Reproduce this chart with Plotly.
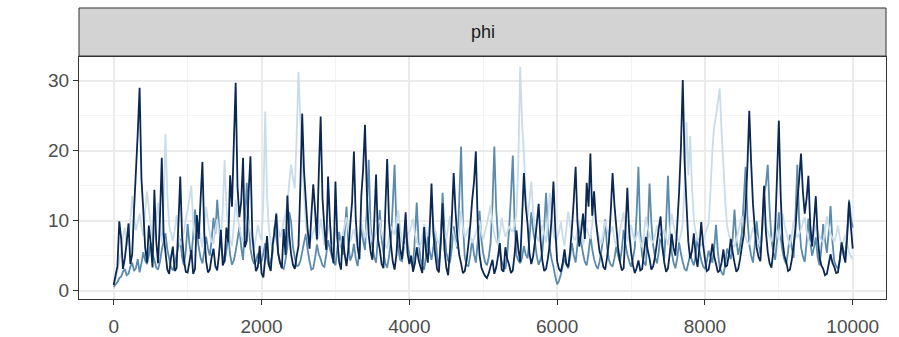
import plotly.graph_objects as go

step = 25
iterations = list(range(0, 10001, step))

chain_dark = [
    0.8, 2.2, 3.5, 9.9, 7.5, 3.1, 4.6, 6.9, 9.6, 3.8, 5.2, 11.6, 17.0, 22.5, 29.0, 16.0, 11.5, 6.2, 4.0, 9.3, 6.8, 3.3, 14.4, 7.1, 3.9, 10.2, 19.0, 8.0, 5.5, 3.0, 2.4, 4.7, 6.3, 2.8, 3.2, 9.5, 16.3, 7.8, 4.4, 2.7,
    2.6, 4.1, 5.8, 2.4, 3.1, 10.8, 7.4, 13.0, 18.4, 8.3, 4.2, 2.6, 3.0, 4.8, 6.0, 3.5, 2.9, 5.2, 8.7, 3.6, 4.3, 9.0, 6.9, 16.5, 12.0, 21.0, 29.7, 14.8, 10.5, 12.7, 19.0, 6.2, 7.1, 14.0, 19.2, 8.1, 5.0, 2.8, 3.4, 6.4,
    2.5, 1.9, 4.7, 7.8, 3.6, 2.8, 6.5, 8.4, 11.0, 5.3, 4.0, 3.2, 8.8, 5.1, 13.6, 7.9, 5.2, 3.7, 3.1, 4.9, 6.4, 14.7, 25.3, 17.1, 12.8, 8.6, 6.0, 10.9, 15.2, 11.4, 7.3, 16.8, 24.9, 13.2, 9.0, 5.8, 16.3, 10.1, 5.5, 3.9,
    15.6, 7.7, 4.1, 3.0, 7.8, 5.2, 3.5, 6.0, 9.4, 12.6, 19.9, 10.3, 6.2, 4.5, 13.5, 17.4, 23.7, 14.1, 8.0, 5.6, 4.4, 9.8, 16.6, 7.4, 5.9, 3.8, 3.2, 11.5, 18.8, 9.9, 6.7, 4.2, 3.0, 5.1, 9.6, 6.0, 4.5, 7.2, 11.2, 5.4,
    3.8, 5.0, 2.7, 3.9, 6.2, 4.4, 3.4, 2.5, 9.1, 5.7, 4.0, 8.6, 15.3, 8.2, 5.2, 3.1, 2.6, 6.8, 12.5, 5.9, 3.3, 2.2, 5.8, 10.4, 16.8, 11.3, 7.5, 5.1, 3.9, 2.5, 2.8, 4.3, 6.7, 9.4, 12.9, 15.5, 19.9, 9.7, 5.1, 3.3,
    2.6, 2.1, 1.8, 2.5, 3.5, 4.4, 2.4, 3.3, 4.9, 6.8, 3.0, 2.7, 6.2, 4.5, 3.7, 2.5, 2.9, 5.3, 8.6, 5.9, 4.1, 10.2, 16.8, 12.1, 9.5, 5.4, 3.8, 4.9, 7.0, 9.6, 12.4, 7.3, 4.3, 2.8, 3.1, 4.6, 6.6, 10.4, 15.6, 8.8,
    4.2, 3.1, 2.7, 4.0, 5.9, 3.8, 3.4, 5.6, 8.9, 12.9, 17.7, 9.8, 6.3, 8.4, 11.0, 7.4, 15.4, 12.0, 19.6, 10.7, 14.2, 9.9, 7.6, 5.5, 4.8, 3.4, 3.0, 4.7, 6.9, 11.2, 16.8, 12.3, 9.2, 6.1, 4.1, 2.9, 3.2, 8.6, 14.7, 8.4,
    5.6, 3.7, 2.5, 3.2, 4.3, 2.9, 3.1, 5.3, 7.7, 5.8, 4.6, 3.0, 3.5, 4.9, 6.8, 8.9, 10.6, 6.3, 4.0, 2.7, 3.2, 5.4, 8.1, 6.1, 5.0, 9.3, 14.0, 20.5, 30.1, 18.4, 12.5, 7.0, 4.6, 5.7, 8.2, 4.9, 3.4, 6.2, 9.8, 6.6,
    4.5, 2.8, 3.0, 4.6, 6.7, 4.9, 3.8, 2.6, 2.9, 4.0, 5.9, 3.4, 3.6, 5.2, 7.4, 5.5, 4.0, 2.7, 3.1, 4.5, 6.3, 8.0, 11.8, 17.9, 25.7, 18.3, 12.4, 8.8, 6.1, 4.8, 4.2, 9.1, 15.0, 8.4, 5.5, 3.9, 3.3, 5.6, 8.7, 16.2,
    24.3, 13.6, 7.2, 5.0, 4.1, 2.8, 3.0, 4.4, 6.5, 8.8, 12.8, 15.9, 19.6, 14.2, 11.0, 13.1, 16.4, 9.4, 6.3, 9.7, 13.5, 7.9, 4.8, 3.6, 3.1, 2.2, 2.4, 3.8, 5.2, 4.0, 3.4, 2.5, 2.6, 4.4, 6.9, 5.1, 4.0, 7.8, 12.7, 9.1,
    6.0,
]

chain_mid = [
    0.5, 0.9, 1.2, 1.8, 2.0, 2.7, 3.1, 2.2, 2.4, 3.4, 4.0, 2.8, 3.2, 4.5, 2.6, 3.9, 5.5, 4.3, 3.8, 5.0, 6.9, 5.2, 4.4, 3.3, 3.0, 4.1, 5.8, 7.0, 8.2, 5.9, 4.6, 3.3, 2.9, 3.8, 5.1, 6.3, 7.4, 4.8, 3.6, 5.7,
    9.5, 6.6, 4.8, 7.9, 11.6, 8.3, 6.2, 4.7, 3.9, 5.6, 7.7, 6.0, 5.0, 7.2, 10.4, 8.1, 13.0, 9.2, 6.5, 4.9, 4.1, 5.8, 7.9, 5.1, 3.7, 4.3, 5.6, 7.3, 9.1, 6.2, 4.4, 9.6, 15.4, 9.8, 6.0, 4.5, 3.8, 4.2, 5.3, 4.0,
    4.2, 5.3, 6.8, 4.6, 3.5, 4.1, 5.4, 9.2, 7.6, 5.5, 4.0, 3.3, 3.1, 4.4, 6.3, 11.2, 9.8, 6.3, 4.7, 3.5, 3.6, 4.2, 5.5, 6.9, 8.1, 5.8, 4.2, 3.0, 3.2, 4.7, 6.6, 5.2, 4.5, 3.6, 3.4, 5.1, 7.2, 6.0, 5.0, 4.1,
    3.6, 5.9, 8.4, 6.5, 5.1, 8.3, 12.0, 6.6, 4.3, 5.0, 6.7, 4.6, 3.5, 5.7, 9.3, 7.1, 5.8, 11.7, 18.7, 9.5, 6.2, 4.8, 4.0, 7.6, 11.5, 7.4, 5.4, 3.9, 3.3, 4.9, 7.1, 12.2, 18.0, 9.4, 6.0, 4.4, 4.2, 6.1, 9.0, 6.8,
    5.2, 4.0, 3.4, 7.5, 12.6, 7.0, 4.6, 3.5, 3.0, 4.9, 7.8, 5.6, 4.4, 6.2, 8.5, 4.9, 3.2, 7.7, 14.0, 8.6, 5.5, 4.3, 4.1, 6.0, 9.2, 7.3, 6.0, 12.8, 20.6, 9.7, 4.8, 3.6, 3.5, 5.1, 7.3, 5.2, 4.0, 6.9, 11.4, 7.3,
    5.3, 4.1, 3.6, 4.8, 6.9, 12.4, 20.6, 11.8, 7.5, 5.3, 4.2, 3.4, 3.1, 5.2, 8.8, 13.6, 19.3, 9.6, 5.0, 4.3, 3.9, 4.7, 6.4, 5.2, 4.6, 7.3, 11.2, 8.6, 7.0, 4.9, 3.7, 4.4, 5.6, 9.0, 14.0, 8.9, 6.1, 4.5, 3.4, 2.0,
    0.9, 1.4, 2.3, 3.5, 4.6, 3.7, 3.2, 4.8, 6.8, 5.1, 4.0, 6.5, 9.6, 7.0, 5.3, 4.1, 3.6, 5.4, 7.9, 5.9, 4.5, 3.6, 3.1, 4.2, 5.8, 7.6, 10.2, 6.3, 4.4, 3.7, 3.5, 4.6, 6.3, 5.0, 4.1, 5.9, 8.7, 6.6, 5.2, 4.2,
    3.4, 4.5, 6.1, 10.9, 17.7, 8.4, 5.0, 4.0, 3.6, 8.1, 15.3, 9.7, 6.4, 4.8, 3.9, 5.5, 8.2, 6.0, 4.6, 9.8, 16.4, 8.9, 5.5, 4.0, 3.2, 4.6, 6.9, 5.3, 4.1, 3.1, 2.8, 3.9, 5.2, 4.3, 3.6, 5.0, 7.5, 5.7, 4.3, 3.5,
    3.1, 4.2, 5.7, 4.8, 4.0, 6.1, 9.4, 5.5, 3.3, 2.6, 2.2, 3.8, 6.0, 5.2, 4.5, 7.4, 11.6, 7.3, 5.1, 6.4, 8.3, 12.9, 17.7, 10.5, 6.6, 5.0, 4.0, 6.6, 9.9, 7.1, 5.2, 8.9, 13.8, 15.2, 18.0, 11.6, 7.4, 5.5, 4.4, 7.0,
    11.2, 7.7, 5.6, 4.4, 3.8, 5.6, 8.0, 6.1, 4.7, 10.6, 18.0, 10.1, 6.2, 4.9, 4.1, 6.8, 10.3, 7.0, 5.0, 6.1, 7.6, 4.8, 3.6, 6.0, 9.5, 7.2, 5.4, 8.3, 12.1, 7.0, 4.2, 3.5, 3.1, 4.5, 6.8, 5.7, 5.0, 8.4, 13.0, 10.4,
    9.0,
]

chain_light = [
    1.0, 1.6, 2.8, 4.3, 5.5, 7.6, 9.0, 6.4, 7.2, 10.1, 13.5, 10.4, 8.6, 9.8, 11.0, 9.2, 7.8, 11.3, 14.2, 11.7, 9.5, 7.1, 8.0, 10.3, 12.6, 8.8, 6.9, 12.5, 22.4, 13.8, 9.3, 8.1, 7.1, 8.6, 10.8, 8.2, 6.5, 7.3, 8.4, 10.2,
    11.5, 13.2, 15.0, 9.8, 7.3, 8.2, 9.6, 7.5, 6.2, 8.6, 12.0, 9.9, 8.1, 7.0, 6.8, 8.8, 10.2, 8.4, 7.5, 11.4, 18.7, 12.0, 8.9, 7.2, 6.4, 9.3, 13.0, 10.5, 9.1, 7.8, 7.0, 8.4, 10.6, 9.5, 8.3, 6.9, 6.1, 7.6, 9.4, 8.0,
    7.2, 12.8, 25.6, 13.4, 8.8, 7.0, 6.0, 8.3, 11.2, 9.0, 7.6, 8.5, 9.9, 11.0, 12.5, 15.4, 18.0, 16.1, 14.6, 22.0, 31.3, 24.5, 20.0, 13.8, 9.5, 7.6, 6.8, 7.5, 8.4, 9.2, 7.1, 8.0, 10.3, 8.6, 6.5, 7.3, 8.8, 9.7, 7.4, 6.6,
    9.0, 7.4, 6.3, 7.0, 8.1, 9.3, 10.5, 8.6, 7.0, 7.9, 8.8, 7.3, 6.4, 8.0, 9.7, 8.4, 7.5, 9.2, 11.0, 8.1, 6.9, 7.5, 8.3, 9.6, 10.1, 8.3, 7.2, 6.5, 6.0, 7.7, 9.2, 8.5, 8.0, 9.8, 11.5, 8.9, 7.1, 6.4, 6.6, 7.9,
    8.4, 9.1, 10.3, 8.2, 7.0, 6.4, 6.2, 7.9, 9.5, 8.3, 7.8, 9.6, 12.0, 9.7, 8.5, 7.2, 6.7, 8.1, 9.8, 8.4, 7.4, 9.0, 10.7, 9.2, 8.0, 6.9, 6.3, 8.7, 11.4, 9.1, 7.6, 8.2, 9.0, 7.7, 6.8, 7.5, 8.2, 9.3, 10.0, 8.1,
    7.3, 8.5, 9.6, 10.8, 12.2, 9.6, 8.0, 7.1, 6.5, 8.2, 10.4, 8.9, 7.7, 8.4, 9.2, 8.7, 8.4, 9.5, 11.0, 18.5, 32.0, 24.0, 19.6, 13.7, 10.5, 12.8, 15.6, 11.2, 8.8, 7.6, 7.0, 8.3, 9.4, 8.0, 6.9, 9.8, 14.0, 10.6, 8.1, 7.2,
    7.5, 8.4, 9.8, 7.7, 6.4, 8.8, 11.3, 9.3, 8.0, 7.5, 7.2, 8.6, 10.1, 8.0, 6.6, 7.6, 9.0, 8.1, 7.4, 9.5, 12.5, 10.0, 8.3, 7.3, 6.7, 8.2, 10.0, 8.8, 7.8, 8.5, 9.2, 7.4, 6.3, 7.2, 8.6, 9.9, 11.2, 8.5, 7.0, 8.0,
    9.4, 8.0, 7.1, 7.8, 8.5, 7.0, 6.2, 8.1, 10.6, 9.0, 7.9, 7.2, 6.8, 8.0, 9.3, 8.2, 7.4, 8.1, 8.8, 7.5, 6.5, 8.4, 11.0, 9.4, 8.2, 7.5, 7.0, 8.1, 9.6, 15.0, 24.1, 16.5, 22.1, 14.8, 10.0, 8.4, 7.3, 6.7, 6.4, 7.2,
    8.0, 8.8, 9.5, 14.2, 20.0, 23.5, 25.0, 27.0, 28.9, 22.7, 18.0, 12.6, 9.3, 8.0, 7.1, 6.5, 6.2, 7.3, 8.4, 9.6, 10.7, 8.9, 7.5, 6.9, 6.6, 7.8, 9.0, 8.2, 7.8, 6.9, 6.3, 8.1, 10.2, 9.3, 8.5, 7.6, 7.0, 8.2, 9.6, 8.4,
    7.2, 8.9, 11.0, 9.5, 8.4, 7.3, 6.5, 8.0, 9.9, 8.6, 7.6, 8.1, 8.8, 9.7, 10.5, 8.6, 7.3, 6.8, 6.6, 7.9, 9.4, 8.5, 7.8, 7.2, 6.9, 8.5, 10.6, 9.2, 8.1, 7.5, 7.0, 8.0, 9.3, 7.6, 6.4, 7.1, 8.0, 6.7, 5.5, 4.9,
    4.5,
]

assert len(chain_dark) == len(iterations), len(chain_dark)
assert len(chain_mid) == len(iterations), len(chain_mid)
assert len(chain_light) == len(iterations), len(chain_light)

# drawing order: mid, light, dark
chains = [("2", chain_mid, "#5b8bad"), ("1", chain_light, "#c9dcea"), ("3", chain_dark, "#0b2852")]

x_ticks = [0, 2000, 4000, 6000, 8000, 10000]
y_ticks = [0, 10, 20, 30]
facet_label = "phi"

fig = go.Figure()
for name, vals, col in chains:
    fig.add_trace(go.Scatter(x=iterations, y=vals, mode="lines", name=name,
                             line=dict(color=col, width=1.8, simplify=False), showlegend=False))

axis_font = dict(family="Liberation Sans, Arial, sans-serif", size=19, color="#4d4d4d")

fig.update_layout(
    width=899, height=337, autosize=False,
    margin=dict(l=79, r=13, t=57, b=38, autoexpand=False),
    plot_bgcolor="white", paper_bgcolor="white",
    xaxis=dict(range=[-470, 10450], tickvals=x_ticks, ticktext=[str(v) for v in x_ticks],
               automargin=False, ticklabelstandoff=5,
               showgrid=True, gridcolor="#ebebeb", gridwidth=1.5,
               minor=dict(dtick=1000, showgrid=True, gridcolor="#f4f4f4", gridwidth=0.8),
               zeroline=False, showline=True, linecolor="#333333", linewidth=1, mirror=True,
               ticks="outside", ticklen=5, tickcolor="#333333", tickfont=axis_font),
    yaxis=dict(range=[-1.2, 33.4], tickvals=y_ticks, ticktext=[str(v) for v in y_ticks],
               automargin=False,
               showgrid=True, gridcolor="#ebebeb", gridwidth=1.5,
               minor=dict(dtick=5, showgrid=True, gridcolor="#f4f4f4", gridwidth=0.8),
               zeroline=False, showline=True, linecolor="#333333", linewidth=1, mirror=True,
               ticks="outside", ticklen=5, tickcolor="#333333", tickfont=axis_font),
    shapes=[dict(type="rect", xref="paper", yref="paper", x0=0, x1=1, y0=1.004, y1=1.2025,
                 fillcolor="#d3d3d3", line=dict(color="#333333", width=1), layer="above")],
    annotations=[dict(text=facet_label, xref="paper", yref="paper", x=0.5, y=1.103,
                      showarrow=False, xanchor="center", yanchor="middle",
                      font=dict(family="Liberation Sans, Arial, sans-serif", size=18, color="#1a1a1a"))],
)

fig.write_html("out.html")
